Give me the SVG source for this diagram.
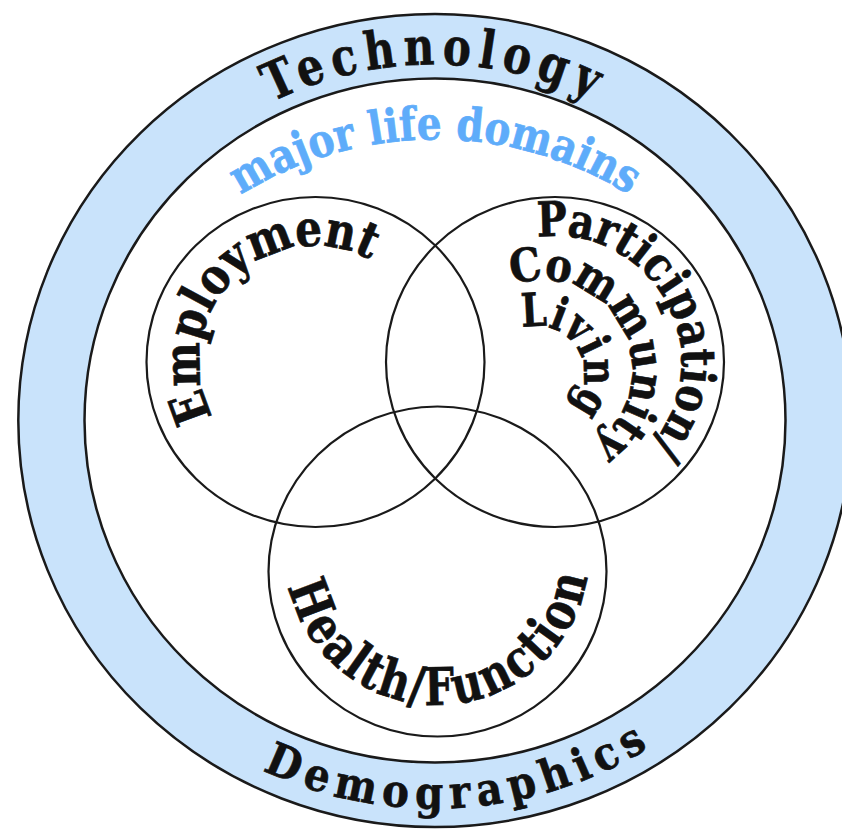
<svg xmlns="http://www.w3.org/2000/svg" width="842" height="833" viewBox="0 0 842 833">
<style>
.edge{stroke:#1a1a1a;stroke-width:2.5}
.venn{fill:none;stroke:#1a1a1a;stroke-width:2.2}
.lbl{font-family:"DejaVu Serif","Liberation Serif",serif;font-weight:bold;fill:#111;stroke:#111;stroke-width:0.7;text-anchor:middle}
.blue{fill:#5eacfa;stroke:#5eacfa}
</style>
<defs>
<path id="pTech" d="M0,356 A356,356 0 1 1 0,-356 A356,356 0 1 1 0,356"/>
<path id="pDemo" d="M0,-388 A388,388 0 1 0 0,388 A388,388 0 1 0 0,-388"/>
<path id="pDom" d="M0,421 A351,351 0 1 1 0,-281 A351,351 0 1 1 0,421"/>
<path id="pEmp" d="M315.5,478 A116,116 0 1 1 315.5,246 A116,116 0 1 1 315.5,478"/>
<path id="pPart" d="M555.5,488 A126,126 0 1 1 555.5,236 A126,126 0 1 1 555.5,488"/>
<path id="pComm" d="M542,460 A90,90 0 1 1 542,280 A90,90 0 1 1 542,460"/>
<path id="pLiv" d="M537,420 A47,47 0 1 1 537,326 A47,47 0 1 1 537,420"/>
<path id="pHealth" d="M437,401 A152,152 0 1 0 437,705 A152,152 0 1 0 437,401"/>
</defs>
<rect width="842" height="833" fill="#fff"/>
<g id="ring">
<ellipse class="edge" cx="435" cy="420.5" rx="416.7" ry="406.5" fill="#c9e3fb"/>
<ellipse class="edge" cx="435" cy="420.5" rx="350.5" ry="342" fill="#fff"/>
<text class="lbl" font-size="52" letter-spacing="9" transform="translate(435,420.5) scale(1.025,1)"><textPath href="#pTech" startOffset="50%" textLength="330" lengthAdjust="spacingAndGlyphs">Technology</textPath></text>
<text class="lbl" font-size="45" letter-spacing="8" transform="translate(435,420.5) scale(1.025,1)"><textPath href="#pDemo" startOffset="1245" textLength="401" lengthAdjust="spacingAndGlyphs">Demographics</textPath></text>
</g>
<g id="domains">
<text class="lbl blue" font-size="46" transform="translate(435,420.5) scale(1.025,1)"><textPath href="#pDom" startOffset="50%" textLength="400" lengthAdjust="spacingAndGlyphs">major life domains</textPath></text>
</g>
<g id="employment">
<ellipse class="venn" cx="315.5" cy="362" rx="169" ry="165"/>
<text class="lbl" font-size="50"><textPath href="#pEmp" startOffset="273.3" textLength="296" lengthAdjust="spacingAndGlyphs">Employment</textPath></text>
</g>
<g id="participation">
<ellipse class="venn" cx="555" cy="362" rx="169" ry="165"/>
<text class="lbl" font-size="48"><textPath href="#pPart" startOffset="530.9" textLength="307" lengthAdjust="spacingAndGlyphs">Participation/</textPath></text>
<text class="lbl" font-size="46"><textPath href="#pComm" startOffset="381" textLength="258" lengthAdjust="spacingAndGlyphs">Community</textPath></text>
<text class="lbl" font-size="46"><textPath href="#pLiv" startOffset="195.6" textLength="127" lengthAdjust="spacingAndGlyphs">Living</textPath></text>
</g>
<g id="health">
<ellipse class="venn" cx="437.5" cy="571.5" rx="169" ry="165"/>
<text class="lbl" font-size="52" letter-spacing="3"><textPath href="#pHealth" startOffset="483.4" textLength="422" lengthAdjust="spacingAndGlyphs">Health/Function</textPath></text>
</g>
<g id="connectors"/>
</svg>
